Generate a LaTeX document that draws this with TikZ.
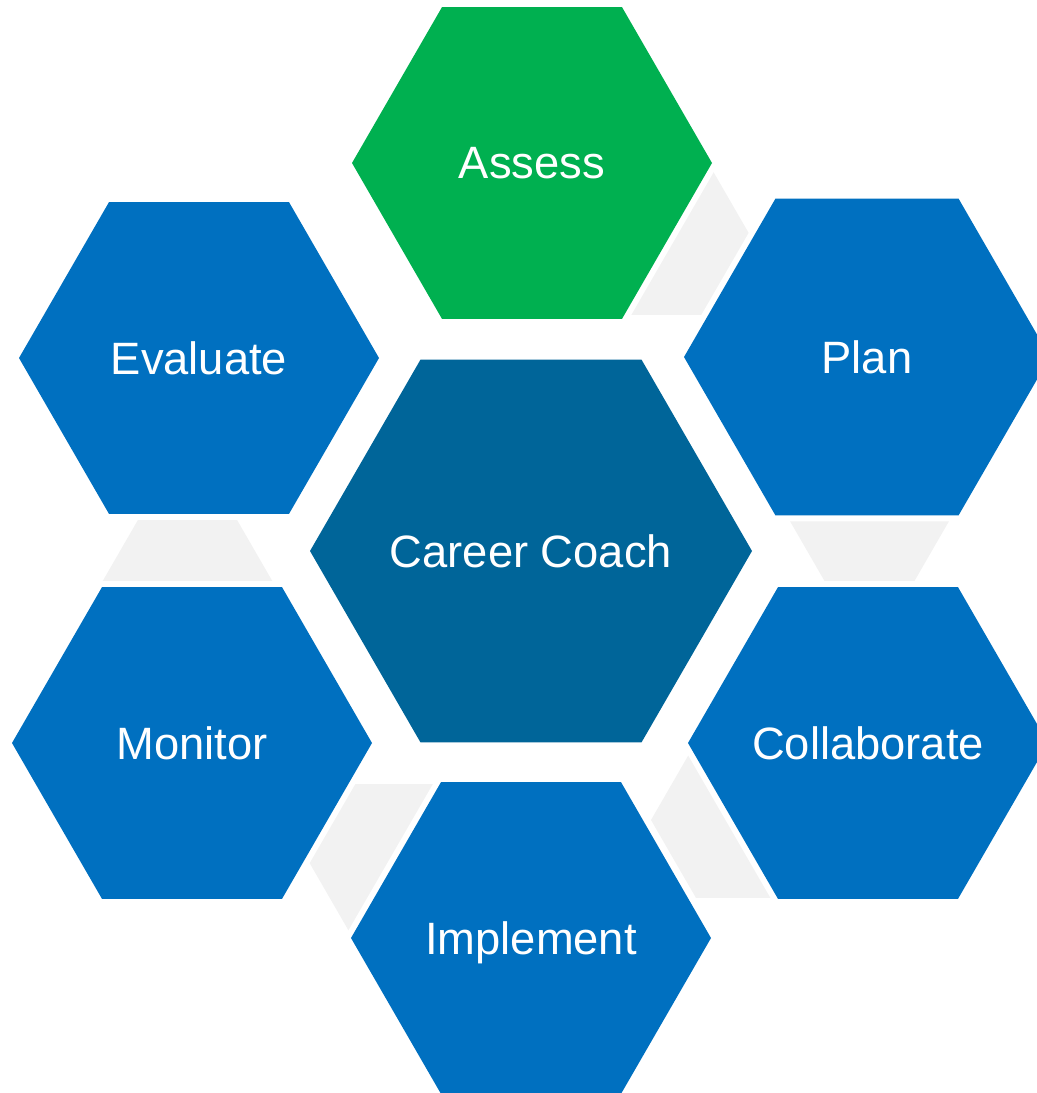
\documentclass[tikz,border=0pt]{standalone}
\usepackage{fontspec}
\setmainfont{Liberation Sans}
\usetikzlibrary{shapes.geometric}

\definecolor{hexgreen}{RGB}{0,176,80}
\definecolor{hexblue}{RGB}{0,112,192}
\definecolor{hexdark}{RGB}{0,101,153}
\definecolor{hexgray}{RGB}{242,242,242}

\tikzset{
	hexcell/.style={regular polygon, regular polygon sides=6, inner sep=0pt, outer sep=0pt,
		minimum size=#1*1.5pt, preaction={draw=white, line width=9pt}},
	hexlink/.style={regular polygon, regular polygon sides=6, inner sep=0pt, outer sep=0pt,
		minimum size=135pt, fill=hexgray},
	every label/.style={text=white, text depth=0pt, inner sep=0pt,
		font=\fontsize{34}{41}\selectfont}
}

\begin{document}
\begin{tikzpicture}[x=0.75pt, y=-0.75pt]
			%%%%% START %%%%%
			\useasboundingbox (0, 0) rectangle (1036, 1093);
			
			% grey links between the steps
			\node[hexlink] (linkAP) at (661, 237) {};
			\node[hexlink] (linkPC) at (869.5, 503) {};
			\node[hexlink] (linkCI) at (741, 820) {};
			\node[hexlink] (linkIM) at (399, 862) {};
			\node[hexlink] (linkME) at (187.5, 590) {};
			
			\node[hexcell=221, fill=hexdark, label=center:Career Coach] (coach) at (531, 551) {};
			
			\node[hexcell=180, fill=hexgreen, label=center:Assess] (assess) at (532, 163) {};
			\node[hexcell=183, fill=hexblue, label=center:Plan] (plan) at (867, 357) {};
			\node[hexcell=180, fill=hexblue, label=center:Collaborate] (collab) at (868, 743) {};
			\node[hexcell=180, fill=hexblue, label=center:Implement] (implement) at (531, 938) {};
			\node[hexcell=180, fill=hexblue, label=center:Monitor] (monitor) at (192, 743) {};
			\node[hexcell=180, fill=hexblue, label=center:Evaluate] (evaluate) at (199, 358) {};
			
			%%%%% END %%%%%
\end{tikzpicture}
\end{document}
